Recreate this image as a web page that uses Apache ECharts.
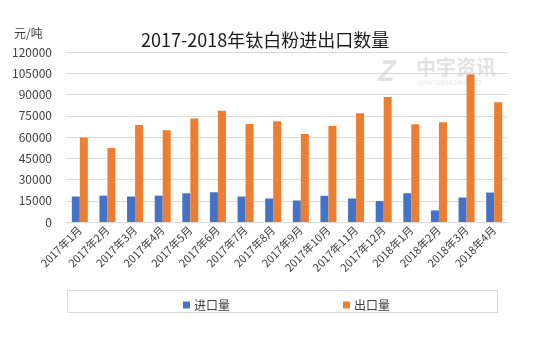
<!DOCTYPE html>
<html>
<head>
<meta charset="utf-8">
<script src="https://cdn.jsdelivr.net/npm/echarts@6/dist/echarts.min.js"></script>
<style>
  html, body { margin: 0; padding: 0; background: #fff; }
  #chart { width: 556px; height: 340px; }
</style>
</head>
<body>
<div id="chart"></div>
<script>
// Monthly titanium dioxide import / export volumes
const months = ['2017年1月','2017年2月','2017年3月','2017年4月','2017年5月','2017年6月',
  '2017年7月','2017年8月','2017年9月','2017年10月','2017年11月','2017年12月',
  '2018年1月','2018年2月','2018年3月','2018年4月'];
const importVol = [18000, 18600, 18000, 18600, 20300, 21000, 18000, 16600, 15200,
  18500, 16600, 14800, 20300, 8200, 17300, 20800];
const exportVol = [59600, 52200, 68500, 64800, 73000, 78600, 69200, 71100, 62200,
  67800, 76700, 88200, 69000, 70400, 104100, 84500];
const yTicks = [0, 15000, 30000, 45000, 60000, 75000, 90000, 105000, 120000];

const FONT = '"Microsoft YaHei", "Noto Sans CJK SC", sans-serif';
const chart = echarts.init(document.getElementById('chart'), null, { renderer: 'canvas' });

chart.setOption({
  animation: false,
  textStyle: { fontFamily: FONT },
  grid: { left: 66, right: 48, top: 52, bottom: 118 },
  xAxis: {
    type: 'category',
    data: months,
    axisLine: { lineStyle: { color: '#d9d9d9' } },
    axisTick: { show: false },
    axisLabel: { rotate: 45, fontSize: 11, color: '#404040', interval: 0, margin: 6 }
  },
  yAxis: {
    type: 'value',
    min: yTicks[0],
    max: yTicks[yTicks.length - 1],
    interval: yTicks[1] - yTicks[0],
    axisLine: { show: false },
    axisTick: { show: false },
    axisLabel: { fontSize: 12, color: '#404040', margin: 14, formatter: v => String(v) },
    splitLine: { lineStyle: { color: '#d9d9d9' } }
  },
  legend: [
    { data: ['进口量'], left: 178, top: 294, itemWidth: 7, itemHeight: 7, icon: 'rect',
      itemGap: 4, textStyle: { fontSize: 12, color: '#404040', padding: [0, 0, 0, -1] } },
    { data: ['出口量'], left: 338, top: 294, itemWidth: 7, itemHeight: 7, icon: 'rect',
      itemGap: 4, textStyle: { fontSize: 12, color: '#404040', padding: [0, 0, 0, -1] } }
  ],
  series: [
    { name: '进口量', type: 'bar', data: importVol, barWidth: 8, barGap: '0%',
      itemStyle: { color: '#4472C4' } },
    { name: '出口量', type: 'bar', data: exportVol, barWidth: 8, barGap: '0%',
      itemStyle: { color: '#ED7D31' } }
  ],
  graphic: [
    { type: 'text', left: 141, top: 31,
      style: { text: '2017-2018年钛白粉进出口数量', fontSize: 18, fill: '#1a1a1a', fontFamily: FONT } },
    { type: 'text', left: 14, top: 27,
      style: { text: '元/吨', fontSize: 12, fill: '#404040', fontFamily: FONT } },
    { type: 'rect', shape: { x: 67.5, y: 290.5, width: 430, height: 22 },
      style: { fill: 'none', stroke: '#d9d9d9', lineWidth: 1 } },
    // faint watermark logo
    { type: 'text', left: 376, top: 56, z: -1,
      style: { text: 'Z', fontSize: 28, fontWeight: 'bold', fontStyle: 'italic', fill: '#e2e2e2', fontFamily: FONT } },
    { type: 'text', left: 416, top: 57, z: -1,
      style: { text: '中宇资讯', fontSize: 20, fontWeight: 'bold', fill: '#e2e2e2', fontFamily: FONT } },
    { type: 'text', left: 417, top: 80, z: -1,
      style: { text: 'WWW.CHEMCHINA.NET', fontSize: 6, fill: '#e6e6e6', fontFamily: FONT } }
  ]
});
</script>
</body>
</html>
